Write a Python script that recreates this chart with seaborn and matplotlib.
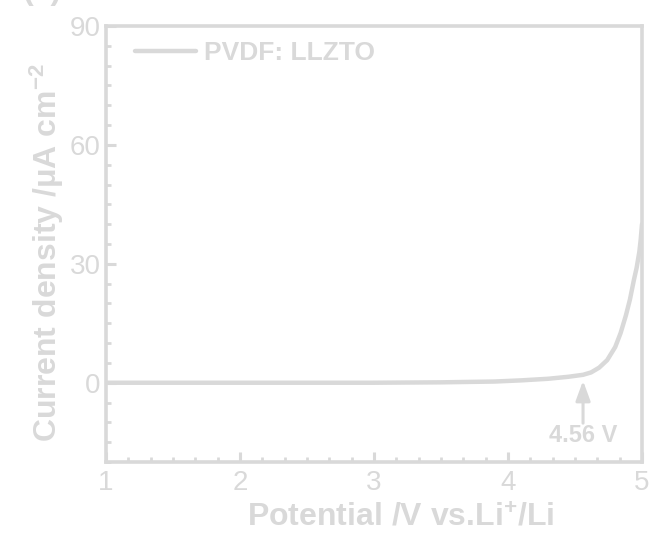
import matplotlib
matplotlib.use("Agg")
import matplotlib.pyplot as plt
import seaborn as sns
import pandas as pd
from matplotlib.ticker import MultipleLocator, AutoMinorLocator

potential = [1.0, 1.5, 2.0, 2.5, 3.0, 3.5, 3.9, 4.1, 4.3, 4.45, 4.56, 4.62, 4.68,
             4.74, 4.8, 4.84, 4.88, 4.91, 4.94, 4.96, 4.98, 4.99, 5.0]
current = [0, 0, 0, 0, 0, 0.1, 0.3, 0.6, 1.0, 1.5, 2.0, 2.6, 3.8,
           5.7, 9.0, 12.5, 17.0, 21.0, 26.0, 29.0, 33.0, 36.0, 40.0]
series_label = "PVDF: LLZTO"
onset_value = 4.56
onset_text = "4.56 V"
x_ticks = [1, 2, 3, 4, 5]
y_ticks = [0, 30, 60, 90]

GREY = "#d9d9d9"

sns.set_theme(style="white")
plt.rcParams["font.family"] = ["Liberation Sans", "DejaVu Sans"]
plt.rcParams["mathtext.fontset"] = "custom"
plt.rcParams["mathtext.rm"] = "Liberation Sans:bold"
plt.rcParams["mathtext.bf"] = "Liberation Sans:bold"
plt.rcParams["mathtext.default"] = "bf"

df = pd.DataFrame({"Potential": potential, "Current": current, "Sample": series_label})

fig = plt.figure(figsize=(6.53, 5.40), dpi=100)
ax = fig.add_axes([106 / 653, 1 - 462 / 540, (642 - 106) / 653, (462 - 26) / 540])

sns.lineplot(data=df, x="Potential", y="Current", hue="Sample", palette=[GREY],
             linewidth=3.2, ax=ax, legend=True)

ax.set_xlim(1, 5)
ax.set_ylim(-20, 90)
ax.set_xticks(x_ticks)
ax.set_yticks(y_ticks)
ax.xaxis.set_minor_locator(AutoMinorLocator(6))
ax.yaxis.set_minor_locator(MultipleLocator(5))

for s in ax.spines.values():
    s.set_color(GREY)
    s.set_linewidth(2.6)

ax.tick_params(axis="both", which="major", direction="in", length=7, width=2.2,
               color=GREY, labelcolor=GREY, labelsize=20,
               bottom=True, left=True, top=False, right=False)
ax.tick_params(axis="x", which="major", pad=6)
ax.tick_params(axis="y", which="major", pad=4)
ax.tick_params(axis="both", which="minor", direction="in", length=3.5, width=2.0,
               color=GREY, bottom=True, left=True, top=False, right=False)

ax.set_xlabel("Potential /V vs.Li$^{+}$/Li", fontsize=23, fontweight="bold",
              color=GREY)
ax.xaxis.set_label_coords(0.549, -0.095)
ax.set_ylabel("Current density /μA cm$^{-2}$", fontsize=23, fontweight="bold",
              color=GREY)
ax.yaxis.set_label_coords(-0.074, 0.48)

leg = ax.legend(loc="upper left", frameon=False, fontsize=19, handlelength=2.3,
                handletextpad=0.3, borderaxespad=0.0, bbox_to_anchor=(0.035, 0.99))
for t in leg.get_texts():
    t.set_color(GREY)
    t.set_fontweight("bold")
leg.set_title(None)

ax.annotate("", xy=(onset_value, 0.5), xytext=(onset_value, -10.2),
            arrowprops=dict(arrowstyle="-|>,head_length=0.6,head_width=0.22",
                            color=GREY, lw=2.2, mutation_scale=20,
                            shrinkA=0, shrinkB=0))
ax.text(onset_value, -13.2, onset_text, ha="center", va="center", fontsize=17,
        fontweight="bold", color=GREY)

fig.text(22 / 653, 1 + 1 / 540, "(a)", fontsize=23, fontweight="bold", color=GREY,
         ha="left", va="baseline")

fig.savefig("out.png", dpi=100)
